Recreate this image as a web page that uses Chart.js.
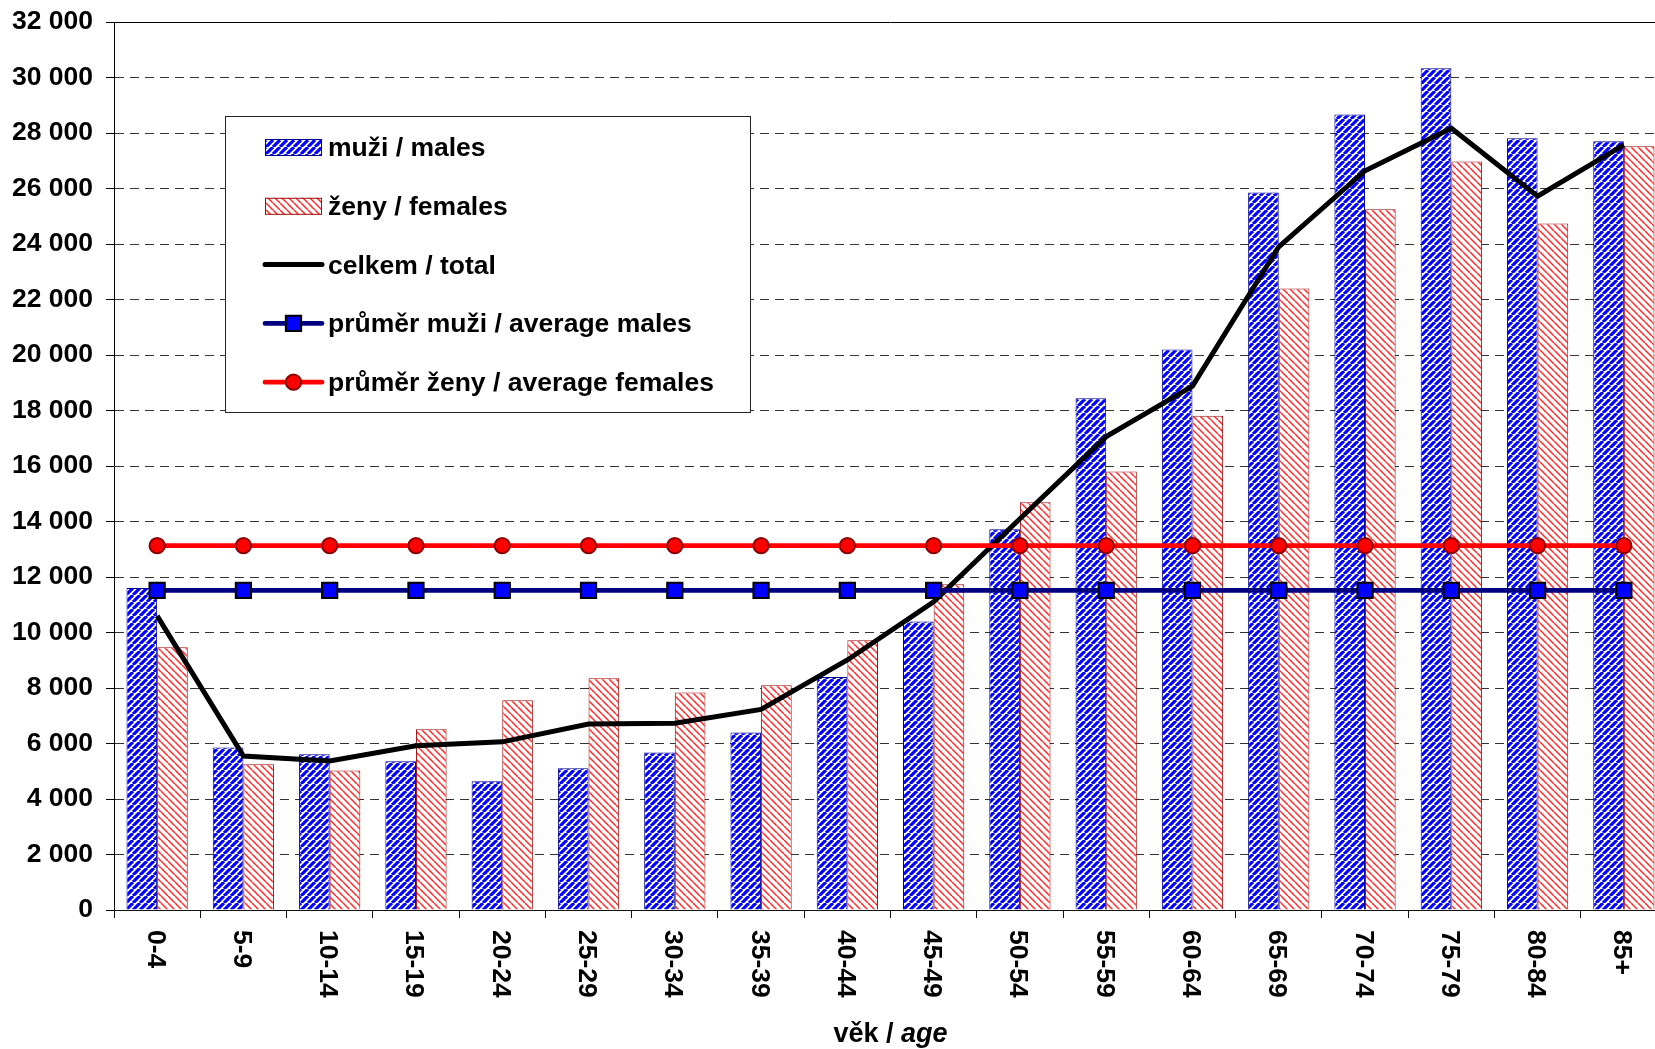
<!DOCTYPE html>
<html>
<head>
<meta charset="utf-8">
<script src="https://cdn.jsdelivr.net/npm/chart.js@4"></script>
<style>
html,body{margin:0;padding:0;overflow:hidden;background:#fff;width:1655px;height:1049px}
#wrap{position:absolute;left:0;top:0;width:1669px;height:1049px}
</style>
</head>
<body>
<div id="wrap"><canvas id="c" width="1669" height="1049" style="width:1669px;height:1049px"></canvas></div>
<script>
// ---- data ----
const categories = ['0-4','5-9','10-14','15-19','20-24','25-29','30-34','35-39','40-44','45-49','50-54','55-59','60-64','65-69','70-74','75-79','80-84','85+'];
const males      = [11600, 5860, 5610, 5360, 4640, 5110, 5680, 6400, 8400, 10400, 13720, 18440, 20200, 25860, 28670, 30330, 27810, 27700];
const females    = [9470, 5250, 5030, 6510, 7560, 8350, 7840, 8100, 9720, 11740, 14690, 15800, 17810, 22400, 25250, 26970, 24740, 27520];
const total      = [10600, 5550, 5370, 5920, 6060, 6700, 6730, 7230, 9010, 11110, 14100, 17060, 18880, 23900, 26640, 28170, 25720, 27570];
const avgMales   = [11520, 11520, 11520, 11520, 11520, 11520, 11520, 11520, 11520, 11520, 11520, 11520, 11520, 11520, 11520, 11520, 11520, 11520];
const avgFemales = [13130, 13130, 13130, 13130, 13130, 13130, 13130, 13130, 13130, 13130, 13130, 13130, 13130, 13130, 13130, 13130, 13130, 13130];
const seriesNames = ['muži / males', 'ženy / females', 'celkem / total', 'průměr muži / average males', 'průměr ženy / average females'];
const yMin = 0, yMax = 32000, yStep = 2000;
const axisTitleParts = ['věk / ', 'age'];

// ---- styling helpers ----
const FONT = '"Liberation Sans", Arial, Helvetica, sans-serif';
const FS = 26.5;
const canvas = document.getElementById('c');
const ctx0 = canvas.getContext('2d');

function stripes(fg, bg, size, lw, dir) {
  const c = document.createElement('canvas');
  c.width = size; c.height = size;
  const g = c.getContext('2d');
  g.fillStyle = bg; g.fillRect(0, 0, size, size);
  g.strokeStyle = fg; g.lineWidth = lw;
  g.beginPath();
  for (let k = -1; k <= 1; k++) {
    if (dir === '/') { g.moveTo(k * size, size); g.lineTo(k * size + size, 0); }
    else { g.moveTo(k * size, 0); g.lineTo(k * size + size, size); }
  }
  g.stroke();
  return ctx0.createPattern(c, 'repeat');
}
const bluePat = stripes('#0000ff', '#ffffff', 7, 3.2, '/');
const redPat = stripes('#ff2a2a', '#ffffff', 7, 1.5, '\\');

const fmt = v => String(v).replace(/\B(?=(\d{3})+(?!\d))/g, ' ');

// ---- plugins ----
const framePlugin = {
  id: 'frame',
  beforeDatasetsDraw(chart) {
    const {ctx, chartArea: a} = chart;
    ctx.save();
    ctx.strokeStyle = '#000'; ctx.lineWidth = 1;
    const y = Math.round(a.top) + 0.5;
    ctx.beginPath(); ctx.moveTo(a.left, y); ctx.lineTo(a.right, y); ctx.stroke();
    ctx.restore();
  }
};

const xLabelPlugin = {
  id: 'xlabels',
  afterDraw(chart) {
    const {ctx} = chart;
    const xs = chart.scales.x;
    ctx.save();
    ctx.fillStyle = '#000';
    ctx.font = 'bold ' + FS + 'px ' + FONT;
    ctx.textAlign = 'left';
    ctx.textBaseline = 'alphabetic';
    chart.data.labels.forEach((lab, i) => {
      const x = xs.getPixelForTick(i);
      ctx.save();
      ctx.translate(x, xs.top + 20);
      ctx.rotate(Math.PI / 2);
      ctx.fillText(lab, 0, FS * 0.716 / 2);
      ctx.restore();
    });
    // axis title
    const f1 = 'bold 27px ' + FONT, f2 = 'italic bold 27px ' + FONT;
    ctx.font = f1; const w1 = ctx.measureText(axisTitleParts[0]).width;
    ctx.font = f2; const w2 = ctx.measureText(axisTitleParts[1]).width;
    const cx = (chart.chartArea.left + chart.chartArea.right) / 2;
    const sx = cx - (w1 + w2) / 2, by = 1042;
    ctx.font = f1; ctx.fillText(axisTitleParts[0], sx, by);
    ctx.font = f2; ctx.fillText(axisTitleParts[1], sx + w1, by);
    ctx.restore();
  }
};

const legendPlugin = {
  id: 'boxLegend',
  afterDraw(chart) {
    const {ctx} = chart;
    const bx = 225.5, by = 116.5, bw = 525, bh = 296;
    ctx.save();
    ctx.fillStyle = '#fff';
    ctx.fillRect(bx, by, bw, bh);
    ctx.strokeStyle = '#222'; ctx.lineWidth = 1;
    ctx.strokeRect(bx, by, bw, bh);
    const ds = chart.data.datasets;
    const sx0 = 265, sx1 = 322, tx = 328;
    ctx.font = 'bold ' + FS + 'px ' + FONT;
    ctx.textAlign = 'left'; ctx.textBaseline = 'alphabetic';
    for (let i = 0; i < ds.length; i++) {
      const base = 156 + i * 58.8;
      const cy = base - 9;
      const d = ds[i];
      if (d.type === 'bar') {
        ctx.fillStyle = d.backgroundColor;
        ctx.fillRect(sx0, cy - 8, sx1 - sx0, 17);
        ctx.strokeStyle = d.borderColor; ctx.lineWidth = 1;
        ctx.strokeRect(sx0 + 0.5, cy - 7.5, sx1 - sx0 - 1, 16);
      } else {
        ctx.strokeStyle = d.borderColor; ctx.lineWidth = d.borderWidth;
        ctx.lineCap = 'round';
        ctx.beginPath(); ctx.moveTo(sx0, cy); ctx.lineTo(sx1, cy); ctx.stroke();
        ctx.lineCap = 'butt';
        if (d.pointRadius > 0) {
          const mx = (sx0 + sx1) / 2;
          ctx.fillStyle = d.pointBackgroundColor;
          ctx.strokeStyle = d.pointBorderColor; ctx.lineWidth = d.pointBorderWidth;
          ctx.beginPath();
          if (d.pointStyle === 'rect') {
            const h = d.pointRadius * Math.SQRT1_2;
            ctx.rect(mx - h, cy - h, 2 * h, 2 * h);
          } else {
            ctx.arc(mx, cy, d.pointRadius, 0, Math.PI * 2);
          }
          ctx.fill(); ctx.stroke();
        }
      }
      ctx.fillStyle = '#000';
      ctx.fillText(d.label, tx, base);
    }
    ctx.restore();
  }
};

// ---- chart ----
new Chart(canvas, {
  data: {
    labels: categories,
    datasets: [
      { type: 'bar', label: seriesNames[0], data: males, backgroundColor: bluePat, borderColor: '#000090', borderWidth: 1, order: 3 },
      { type: 'bar', label: seriesNames[1], data: females, backgroundColor: redPat, borderColor: '#a01010', borderWidth: 1, order: 4 },
      { type: 'line', label: seriesNames[2], data: total, borderColor: '#000', borderWidth: 5, pointRadius: 0, tension: 0, order: 2 },
      { type: 'line', label: seriesNames[3], data: avgMales, borderColor: '#000080', borderWidth: 4.7, pointStyle: 'rect', pointRadius: 10.8, pointBackgroundColor: '#0000ff', pointBorderColor: '#000', pointBorderWidth: 2, order: 1 },
      { type: 'line', label: seriesNames[4], data: avgFemales, borderColor: '#ff0000', borderWidth: 4.7, pointStyle: 'circle', pointRadius: 7.6, pointBackgroundColor: '#ff0000', pointBorderColor: '#8b0000', pointBorderWidth: 2, order: 0 }
    ]
  },
  options: {
    responsive: false,
    devicePixelRatio: 1,
    animation: false,
    events: [],
    layout: { autoPadding: false, padding: { top: 22, right: 2, bottom: 0, left: 0 } },
    plugins: { legend: { display: false }, tooltip: { enabled: false }, title: { display: false } },
    datasets: { bar: { categoryPercentage: 0.71, barPercentage: 1.0 } },
    scales: {
      x: {
        type: 'category',
        offset: true,
        grid: { display: true, drawOnChartArea: false, drawTicks: true, tickLength: 8, color: '#000', tickColor: '#111', offset: true },
        border: { display: true, color: '#111', width: 1 },
        ticks: { display: false },
        afterFit(s) { s.height = 139; s.paddingLeft = 0; s.paddingRight = 0; }
      },
      y: {
        min: yMin, max: yMax,
        ticks: {
          stepSize: yStep,
          padding: 13,
          color: '#000',
          font: { family: FONT, size: FS, weight: 'bold' },
          callback: v => fmt(v)
        },
        grid: {
          color: c => (c.tick && (c.tick.value === yMin || c.tick.value === yMax)) ? 'rgba(0,0,0,0)' : '#333',
          lineWidth: 1,
          drawTicks: true, tickLength: 8, tickColor: '#000', tickBorderDash: []
        },
        border: { display: true, color: '#000', width: 1, dash: [9, 6] },
        afterFit(s) { s.width = 114; s.paddingTop = 0; s.paddingBottom = 0; }
      }
    }
  },
  plugins: [framePlugin, xLabelPlugin, legendPlugin]
});
</script>
</body>
</html>
